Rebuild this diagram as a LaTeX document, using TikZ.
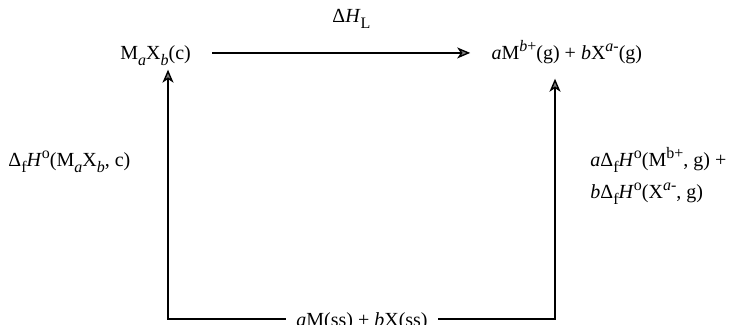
\documentclass[tikz,border=0pt]{standalone}
\usepackage{fontspec}
\setmainfont{Liberation Serif}
\usetikzlibrary{arrows.meta,positioning}
\newcommand{\ita}[1]{\textit{#1}}
\newcommand{\sps}[1]{\raisebox{0.42em}{\footnotesize #1}}
\newcommand{\sbs}[1]{\raisebox{-0.28em}{\footnotesize #1}}
\newcommand{\dfH}{Δ\sbs{f}\ita{H}\sps{o}}

\begin{document}
\begin{tikzpicture}[x=0.5pt,y=-0.5pt,every node/.style={inner sep=0pt,font=\normalsize},
  arr/.style={-{Stealth[length=6.5pt,width=5.5pt,inset=1.8pt,fill=gray,line width=0.7pt]},line width=1pt}]
\useasboundingbox (0,0) rectangle (731,325);
\node[anchor=base west] (lhs) at (120,60) {M\sbs{\ita{a}}X\sbs{\ita{b}}(c)};
\node[base right=150pt of lhs] (rhs) {\ita{a}M\sps{\ita{b}+}(g) + \ita{b}X\sps{\ita{a}-}(g)};
\node[anchor=base,inner xsep=5pt] (sum) at (362,326) {\ita{a}M(ss) + \ita{b}X(ss)};
\node[anchor=base west] (dh) at (332,23) {Δ\ita{H}\sbs{L}};
\node[anchor=base west] (form) at (8,167) {\dfH(M\sbs{\ita{a}}X\sbs{\ita{b}}, c)};
\node[anchor=west,align=left] (ions) at (590,176) {\ita{a}\dfH(M\sps{b+}, g) +\\[4pt]\ita{b}\dfH(X\sps{\ita{a}-}, g)};
\coordinate (bl) at (168,319);
\coordinate (br) at (555,319);
\draw[arr,shorten <=10.5pt,shorten >=10.5pt] ([yshift=1.5pt]lhs.east) -- ([yshift=1.5pt]lhs.east -| rhs.west);
\draw[arr,shorten >=1.75pt] (sum.west |- bl) -- (bl) -- (bl |- lhs.south);
\draw[arr,shorten >=7pt] (sum.east |- br) -- (br) -- (br |- rhs.south);
\end{tikzpicture}
\end{document}
